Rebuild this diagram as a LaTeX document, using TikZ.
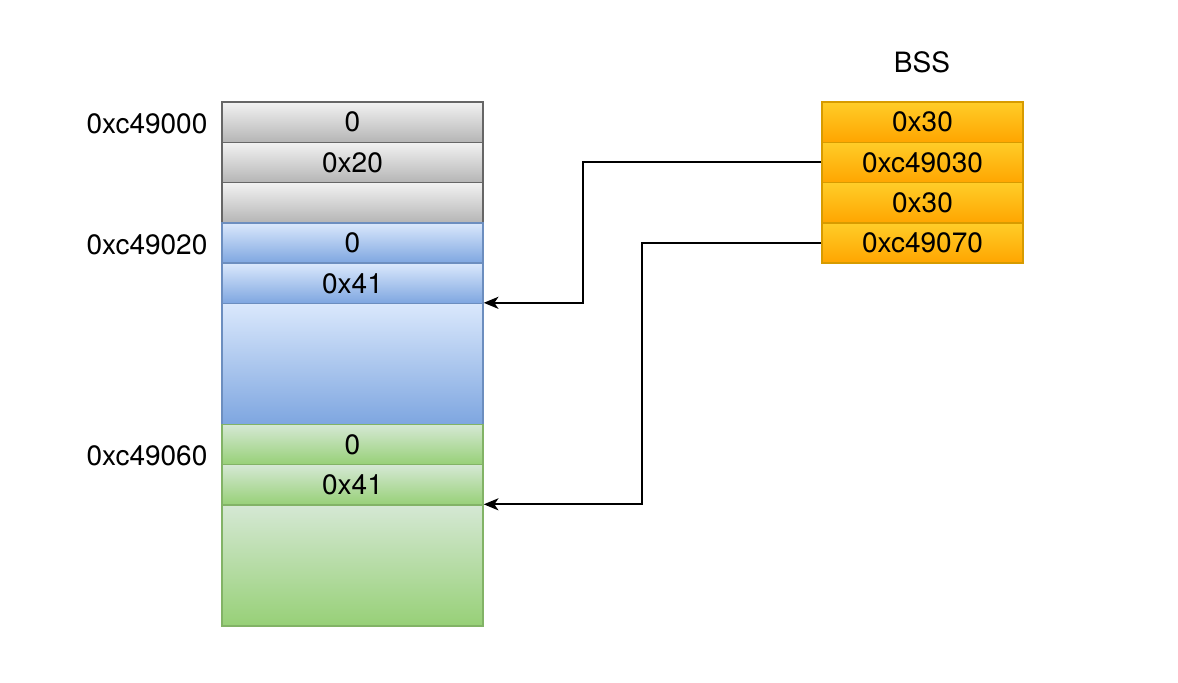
\documentclass[tikz,border=0pt]{standalone}
\usepackage{fontspec}
\setmainfont{TeX Gyre Heros}
\usetikzlibrary{arrows.meta,calc}
\definecolor{grayT}{HTML}{F2F2F2}
\definecolor{grayB}{HTML}{B5B5B5}
\definecolor{grayS}{HTML}{666666}
\definecolor{blueT}{HTML}{DAE8FC}
\definecolor{blueB}{HTML}{7EA6E0}
\definecolor{blueS}{HTML}{6C8EBF}
\definecolor{greenT}{HTML}{D5E8D4}
\definecolor{greenB}{HTML}{97D077}
\definecolor{greenS}{HTML}{82B366}
\definecolor{orT}{HTML}{FFCD28}
\definecolor{orB}{HTML}{FFA500}
\definecolor{orS}{HTML}{D79B00}
\tikzset{
  cell/.style={rectangle, inner sep=0pt, line width=1.1pt, font=\fontsize{21}{25}\selectfont, text=black},
  lcell/.style={cell, minimum width=195.75pt, minimum height=30.2pt},
  bcell/.style={lcell, minimum height=90.6pt},
  rcell/.style={cell, minimum width=150.75pt, minimum height=30.2pt},
  graycell/.style={draw=grayS, top color=grayT, bottom color=grayB},
  bluecell/.style={draw=blueS, top color=blueT, bottom color=blueB},
  greencell/.style={draw=greenS, top color=greenT, bottom color=greenB},
  orcell/.style={draw=orS, top color=orT, bottom color=orB},
  addr/.style={font=\fontsize{21}{25}\selectfont, inner sep=0pt},
  arr/.style={line width=1.5pt, -{Stealth[length=11pt,width=9pt,inset=3pt]}},
}
\begin{document}
\begin{tikzpicture}[x=0.75pt,y=-0.75pt]
\path[use as bounding box] (0,0) rectangle (1178,682);
% left column: unit 40.3
\node[lcell,graycell] (g0) at (352.5,122.15) {0};
\node[lcell,graycell] (g1) at (352.5,162.45) {0x20};
\node[lcell,graycell] (g2) at (352.5,202.75) {};
\node[lcell,bluecell] (u0) at (352.5,243.05) {0};
\node[lcell,bluecell] (u1) at (352.5,283.35) {0x41};
\node[bcell,bluecell] (u2) at (352.5,363.95) {};
\node[lcell,greencell] (n0) at (352.5,444.55) {0};
\node[lcell,greencell] (n1) at (352.5,484.85) {0x41};
\node[bcell,greencell] (n2) at (352.5,565.45) {};
% address labels
\node[addr] (a0) at (147,124) {0xc49000};
\node[addr] (a1) at (147,245) {0xc49020};
\node[addr] (a2) at (147,456) {0xc49060};
% BSS column
\node[addr] (bss) at (922,62) {BSS};
\node[rcell,orcell] (b0) at (922.5,122.15) {0x30};
\node[rcell,orcell] (b1) at (922.5,162.45) {0xc49030};
\node[rcell,orcell] (b2) at (922.5,202.75) {0x30};
\node[rcell,orcell] (b3) at (922.5,243.05) {0xc49070};
% connectors
\coordinate (k1) at (583,162.45);
\coordinate (k2) at (642,243.05);
\draw[arr] (b1.west) -- (k1) |- (u2.north east);
\draw[arr] (b3.west) -- (k2) |- (n2.north east);
\end{tikzpicture}
\end{document}
